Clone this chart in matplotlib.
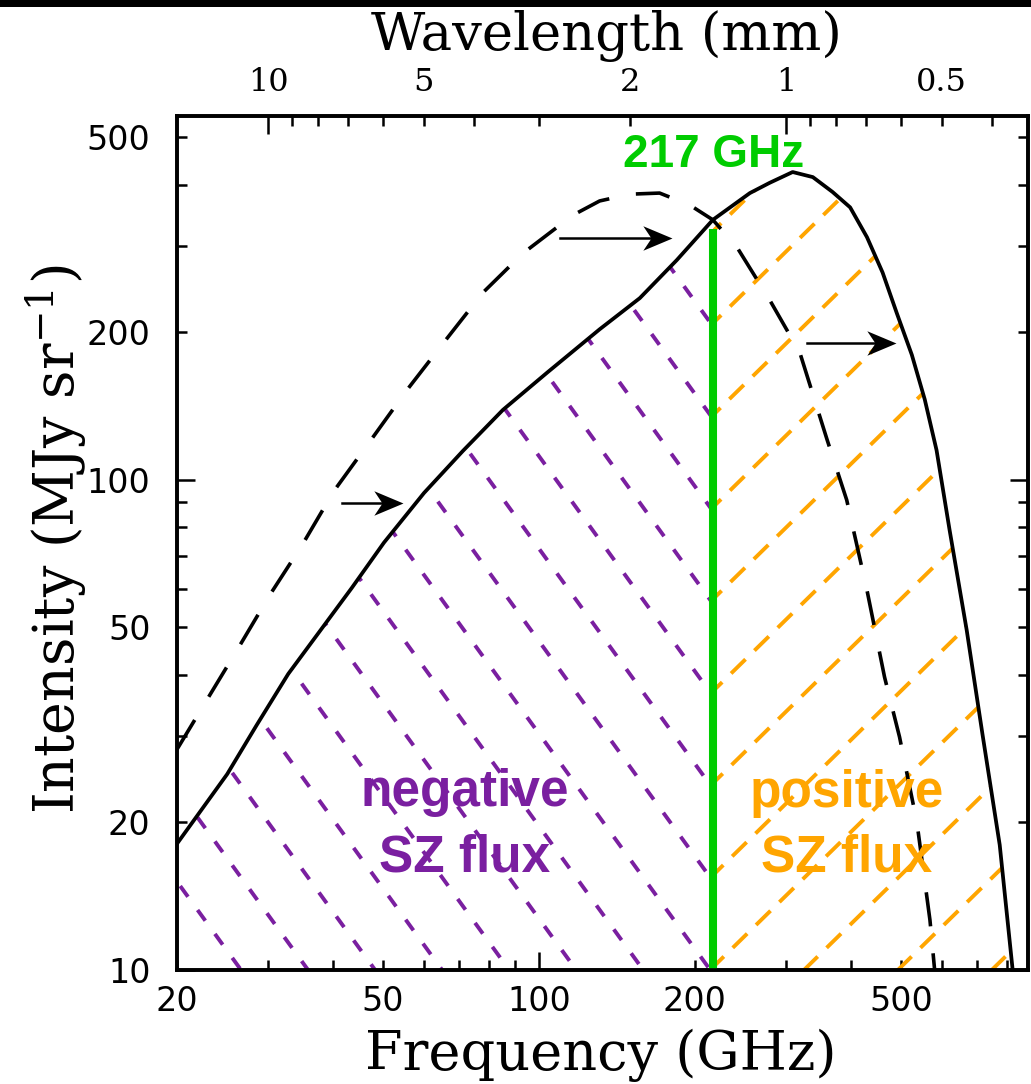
import numpy as np
import matplotlib
matplotlib.use("Agg")
import matplotlib.pyplot as plt
from matplotlib.ticker import FixedLocator, FuncFormatter
from matplotlib.patches import Polygon, Rectangle
from matplotlib.path import Path
from matplotlib.markers import MarkerStyle

plt.rcParams["mathtext.fontset"] = "dejavuserif"

# ---------------- data ----------------
# undistorted CMB spectrum (dashed)
cmb_freq = [20.0, 22.7, 26.2, 30.2, 34.9, 40.2, 47.2, 55.6, 65.3, 77.9, 93.1,
            116.3, 131.0, 150.0, 171.0, 195.5, 216.7, 241.0, 279.0, 319.0,
            360.0, 393.0, 430.0, 465.0, 497.0, 537.0, 569.0, 581.0]
cmb_int = [28.2, 35.2, 45.2, 58.2, 73.7, 95.0, 120.0, 152.6, 190.0, 241.0,
           290.0, 347.0, 371.0, 383.0, 385.0, 364.0, 339.5, 299.0, 233.0,
           182.0, 121.0, 91.0, 59.6, 39.6, 29.9, 20.0, 12.65, 10.0]

# SZ-distorted spectrum (solid)
sz_freq = [20.0, 25.0, 28.5, 32.8, 43.5, 50.2, 60.0, 71.3, 85.2, 104.0, 131.0,
           156.6, 184.6, 216.7, 255.5, 279.0, 309.0, 338.0, 369.0, 399.0, 430.0,
           461.0, 491.0, 525.0, 556.0, 586.0, 621.0, 670.0, 719.0, 776.0, 822.0]
sz_int = [18.1, 25.1, 31.6, 40.2, 60.2, 74.5, 94.1, 114.6, 139.0, 166.0, 203.0,
          235.0, 281.0, 339.5, 385.0, 404.0, 425.0, 415.0, 387.0, 360.0, 313.0,
          265.0, 219.0, 180.0, 146.0, 115.0, 79.0, 49.4, 30.2, 18.0, 10.0]

null_freq = 217.0          # crossover frequency
null_line_top = 325.0      # top of the green marker line

# shift arrows: (start freq, end freq, intensity)
arrows = [(41.7, 54.6, 89.7), (109.8, 180.5, 312.0), (329.0, 490.0, 190.5)]

freq_major = [100]
freq_minor = [20, 30, 40, 50, 60, 70, 80, 90, 200, 300, 400, 500, 600, 700, 800]
freq_labels = [20, 50, 100, 200, 500]
int_major = [10, 100]
int_minor = [20, 30, 40, 50, 60, 70, 80, 90, 200, 300, 400, 500]
int_labels = [10, 20, 50, 100, 200, 500]
wl_major = [1, 10]
wl_minor = [0.4, 0.5, 0.6, 0.7, 0.8, 0.9, 2, 3, 4, 5, 6, 7, 8, 9]
wl_labels = [10, 5, 2, 1, 0.5]
c_mm_ghz = 299.79

PURPLE = "#7a1fa0"
ORANGE = "#ffa500"
GREEN = "#00cc00"

# ---------------- figure ----------------
W, H = 1031, 1084
fig = plt.figure(figsize=(W / 100, H / 100), dpi=100)
ax_l, ax_r, ax_t, ax_b = 177, 1028, 116, 970
ax = fig.add_axes([ax_l / W, 1 - ax_b / H, (ax_r - ax_l) / W, (ax_b - ax_t) / H])
ax.set_xscale("log")
ax.set_yscale("log")
ax.set_xlim(20, 880)
ax.set_ylim(10, 553)

# hatch regions (clip polygons built from the solid curve)
fs = np.array(sz_freq)
Is = np.array(sz_int)
left = fs <= null_freq
right = fs >= 216.0
poly_neg = [(fs[0], 10)] + list(zip(fs[left], Is[left])) + [(fs[left][-1], 10)]
poly_pos = [(fs[right][0], 10)] + list(zip(fs[right], Is[right])) + [(fs[-1], 10)]
clip_neg = Polygon(poly_neg, closed=True, transform=ax.transData, fill=False, lw=0)
clip_pos = Polygon(poly_pos, closed=True, transform=ax.transData, fill=False, lw=0)
ax.add_patch(clip_neg)
ax.add_patch(clip_pos)
clip_neg.set_visible(False)
clip_pos.set_visible(False)

aw, ah = ax_r - ax_l, ax_b - ax_t
xg = np.log10(null_freq / 20) / np.log10(880 / 20)
xx = np.array([-0.2, 1.2])
# purple hatch: down-right lines
s_p = 1.38 * aw / ah
g0, dv = -4 / ah, 92.5 / ah
for k in range(-12, 16):
    y0 = g0 + k * dv
    yy = y0 - s_p * (xx - xg)
    ln, = ax.plot(xx, yy, transform=ax.transAxes, color=PURPLE, lw=2.8,
                  dashes=(3.4, 4.2), solid_capstyle="butt", zorder=2)
    ln.set_clip_path(clip_neg)
# orange hatch: up-right lines
s_o = 0.98 * aw / ah
g0o, dvo = 3 / ah, 92 / ah
for k in range(-10, 12):
    y0 = g0o + k * dvo
    yy = y0 + s_o * (xx - xg)
    ln, = ax.plot(xx, yy, transform=ax.transAxes, color=ORANGE, lw=2.8,
                  dashes=(5.2, 3.2), solid_capstyle="butt", zorder=2)
    ln.set_clip_path(clip_pos)

# curves
ax.plot(cmb_freq, cmb_int, color="black", lw=2.6, dashes=(9.5, 7.5), zorder=4)
ax.plot(sz_freq, sz_int, color="black", lw=2.7, zorder=5,
        solid_joinstyle="round")

# green line at null
ax.plot([null_freq, null_freq], [10, null_line_top], color=GREEN, lw=5.8,
        solid_capstyle="butt", zorder=3)

# arrows
head = Path([(0, 0), (-1.0, 0.42), (-0.72, 0.0), (-1.0, -0.42), (0, 0)],
            [Path.MOVETO, Path.LINETO, Path.LINETO, Path.LINETO, Path.CLOSEPOLY])
for f0, f1, iv in arrows:
    ax.plot([f0, f1 * 0.97], [iv, iv], color="black", lw=1.8, zorder=6)
    ax.plot([f1], [iv], marker=MarkerStyle(head), markersize=42, color="black",
            markeredgewidth=0, zorder=6)

# texts
sans_b = dict(family="Liberation Sans", weight="bold")
ax.text(null_freq, (ax_b - 167) / ah, "217 GHz", color=GREEN, fontsize=33,
        ha="center", va="baseline",
        transform=ax.get_xaxis_transform(), **sans_b, zorder=7)
for txt, xpx, ypx, col in [("negative", 465, 806, PURPLE), ("SZ flux", 465, 872, PURPLE),
                           ("positive", 847, 807, ORANGE), ("SZ flux", 847, 871, ORANGE)]:
    ax.text((xpx - ax_l) / aw, (ax_b - ypx) / ah, txt, color=col, fontsize=37,
            ha="center", va="baseline", transform=ax.transAxes, **sans_b, zorder=7)

# ticks and spines
def make_fmt(labels):
    def f(v, p):
        for L in labels:
            if abs(v - L) < 1e-6 * max(1, L):
                return f"{L:g}"
        return ""
    return FuncFormatter(f)

ax.xaxis.set_major_locator(FixedLocator(freq_major))
ax.xaxis.set_minor_locator(FixedLocator(freq_minor))
ax.xaxis.set_major_formatter(make_fmt(freq_labels))
ax.xaxis.set_minor_formatter(make_fmt(freq_labels))
ax.yaxis.set_major_locator(FixedLocator(int_major))
ax.yaxis.set_minor_locator(FixedLocator(int_minor))
ax.yaxis.set_major_formatter(make_fmt(int_labels))
ax.yaxis.set_minor_formatter(make_fmt(int_labels))
ax.tick_params(which="both", direction="in", top=False, right=True, width=1.8,
               labelsize=24, labelfontfamily="DejaVu Sans")
ax.tick_params(which="major", length=13)
ax.tick_params(which="minor", length=7)
ax.tick_params(axis="x", which="both", pad=11)
ax.tick_params(axis="y", which="both", pad=19)

ax2 = ax.twiny()
ax2.set_xscale("log")
ax2.set_xlim(c_mm_ghz / 20, c_mm_ghz / 880)
ax2.xaxis.set_major_locator(FixedLocator(wl_major))
ax2.xaxis.set_minor_locator(FixedLocator(wl_minor))
ax2.xaxis.set_major_formatter(make_fmt(wl_labels))
ax2.xaxis.set_minor_formatter(make_fmt(wl_labels))
ax2.tick_params(which="both", direction="in", width=1.8, labelsize=23, pad=13,
                labelfontfamily="DejaVu Serif")
ax2.tick_params(which="major", length=13)
ax2.tick_params(which="minor", length=7)

for a in (ax, ax2):
    for sp in a.spines.values():
        sp.set_linewidth(2.6)

# axis titles
serif = dict(family="DejaVu Serif")
fig.text(601 / W, 1 - 1070 / H, "Frequency (GHz)", fontsize=39, ha="center",
         va="baseline", **serif)
fig.text(606 / W, 1 - 50 / H, "Wavelength (mm)", fontsize=38, ha="center",
         va="baseline", **serif)
fig.text(56 / W, 1 - 539 / H, r"Intensity (MJy sr$^{-1}$)", fontsize=40,
         rotation=90, ha="center", va="center", **serif)

# black band at the very top of the screenshot
fig.add_artist(Rectangle((0, 1 - 7 / H), 1, 7 / H, transform=fig.transFigure,
                         color="black", lw=0))

fig.savefig("out.png", dpi=100)
